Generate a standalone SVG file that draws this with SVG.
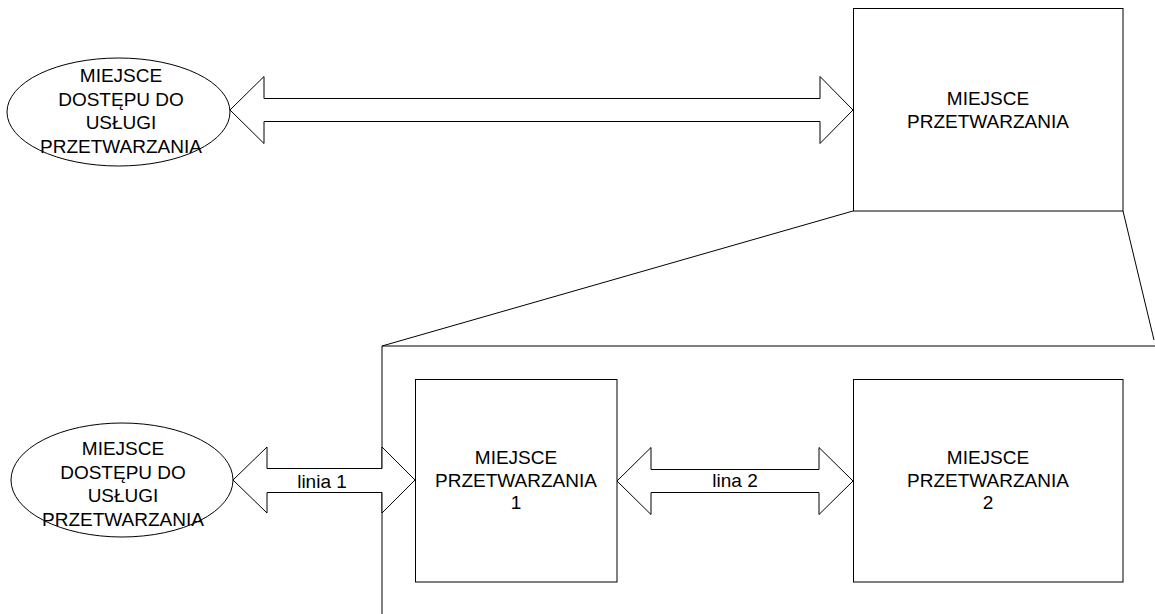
<svg xmlns="http://www.w3.org/2000/svg" width="1155" height="614" viewBox="0 0 1155 614">
  <style>
    .shape { fill: #ffffff; stroke: #000000; stroke-width: 1; }
    .line { fill: none; stroke: #000000; stroke-width: 1; }
    .label { font-family: "Liberation Sans", Arial, sans-serif; font-size: 19px; fill: #000000; text-anchor: middle; }
  </style>
  <rect x="0" y="0" width="1155" height="614" fill="#ffffff"/>

  <!-- zoom-out outline: processing site expanded into its sub-sites -->
  <g id="detail-frame">
    <polyline class="line" points="853,211 382,346 382,614"/>
    <polyline class="line" points="1123,211 1154,340"/>
    <line class="line" x1="382" y1="346" x2="1155" y2="346"/>
  </g>

  <g id="access-point-top">
    <ellipse class="shape" cx="118.5" cy="112" rx="111.5" ry="54"/>
    <text class="label" x="121" y="82">MIEJSCE</text>
    <text class="label" x="121" y="105.5">DOSTĘPU DO</text>
    <text class="label" x="121" y="129">USŁUGI</text>
    <text class="label" x="121" y="152.5">PRZETWARZANIA</text>
  </g>

  <g id="processing-site">
    <rect class="shape" x="853.5" y="8.5" width="269.5" height="202.5"/>
    <text class="label" x="988" y="105">MIEJSCE</text>
    <text class="label" x="988" y="127.5">PRZETWARZANIA</text>
  </g>

  <g id="access-point-bottom">
    <ellipse class="shape" cx="122" cy="480" rx="111" ry="57"/>
    <text class="label" x="123" y="455">MIEJSCE</text>
    <text class="label" x="123" y="478.5">DOSTĘPU DO</text>
    <text class="label" x="123" y="502">USŁUGI</text>
    <text class="label" x="123" y="525.5">PRZETWARZANIA</text>
  </g>

  <g id="processing-site-1">
    <rect class="shape" x="415.5" y="379.5" width="201.5" height="202.5"/>
    <text class="label" x="516" y="464">MIEJSCE</text>
    <text class="label" x="516" y="486.5">PRZETWARZANIA</text>
    <text class="label" x="516" y="509">1</text>
  </g>

  <g id="processing-site-2">
    <rect class="shape" x="853.5" y="379.5" width="269.5" height="202.5"/>
    <text class="label" x="988" y="464">MIEJSCE</text>
    <text class="label" x="988" y="486.5">PRZETWARZANIA</text>
    <text class="label" x="988" y="509">2</text>
  </g>

  <!-- double-headed block arrows -->
  <g id="connectors">
    <polygon class="shape" points="230,110 264,76.5 264,98.5 820,98.5 820,76.5 853,110 820,143.5 820,121.5 264,121.5 264,143.5"/>
    <g id="link-1">
      <polygon class="shape" points="233,480 267,447 267,468.5 382,468.5 382,447 415,480 382,513 382,492.5 267,492.5 267,513"/>
      <text class="label" x="322" y="488">linia 1</text>
    </g>
    <g id="link-2">
      <polygon class="shape" points="617,481 651,447.5 651,469.5 819,469.5 819,447.5 853,481 819,514.5 819,492.5 651,492.5 651,514.5"/>
      <text class="label" x="735" y="487">lina 2</text>
    </g>
  </g>
</svg>
